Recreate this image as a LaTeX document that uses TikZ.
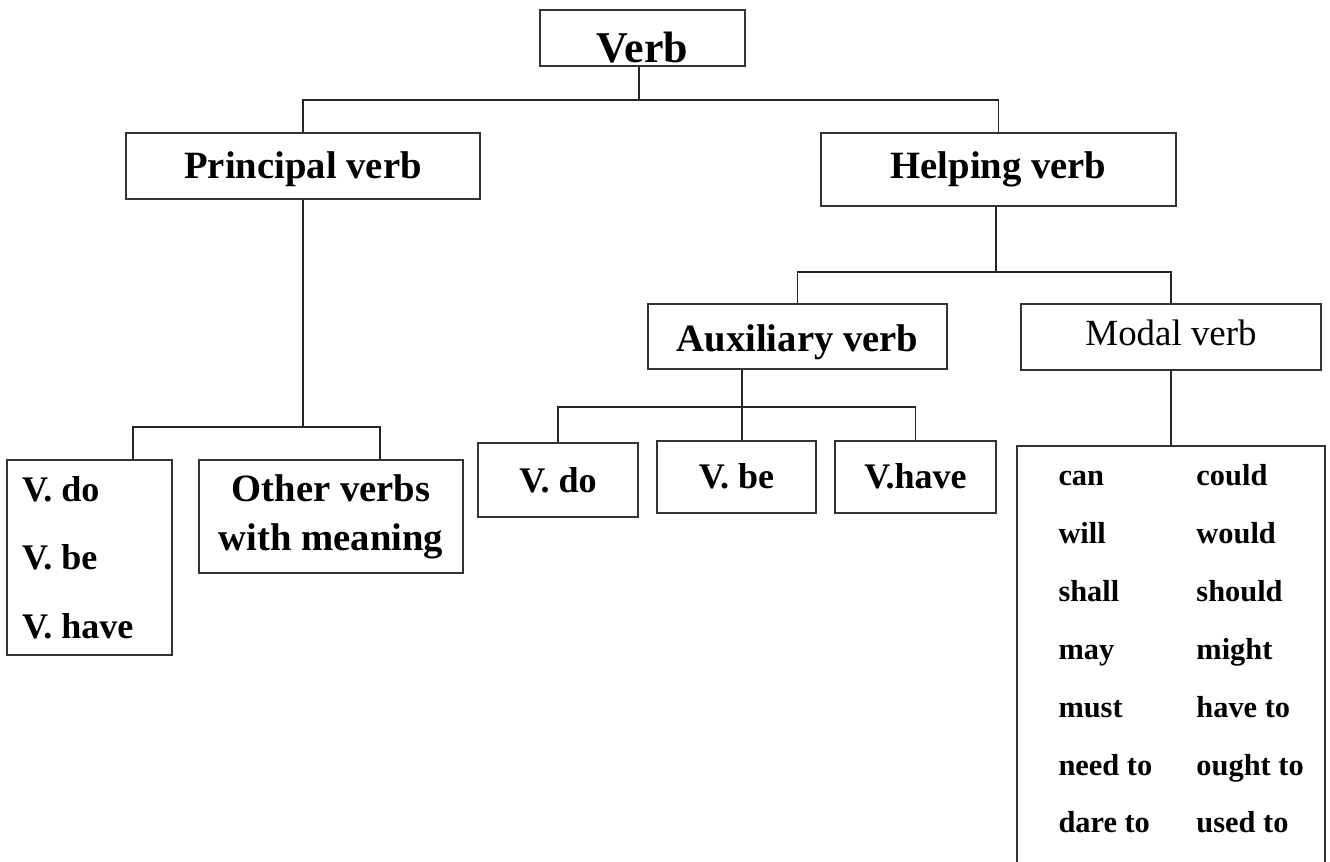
\documentclass[tikz,border=0pt]{standalone}
\usepackage{fontspec}
\setmainfont{Liberation Serif}
\usetikzlibrary{positioning}

\begin{document}
\begin{tikzpicture}[x=0.02cm, y=-0.02cm]
	\tikzstyle{Box}  = [draw=black!80, line width=1pt, inner sep=0pt]
	\tikzstyle{Link} = [black!85, line width=1pt]
	\tikzstyle{Head} = [font=\bfseries\fontsize{22}{26}\selectfont]
	\tikzstyle{Leaf} = [font=\bfseries\fontsize{20.5}{25}\selectfont]

	\path[use as bounding box, clip] (0,0) rectangle (1330,862);

	% top levels
	\node (verb) at (642.5,62) [Box, anchor=base, minimum width=4.1cm, text height=1.04cm, text depth=0.08cm, font=\bfseries\fontsize{25}{30}\selectfont] {Verb};
	\node (principal) at (303,178) [Box, Head, anchor=base, minimum width=7.08cm, text height=0.9cm, text depth=0.42cm] {Principal verb};
	\node (helping) at (998.5,178) [Box, Head, anchor=base, minimum width=7.1cm, text height=0.9cm, text depth=0.56cm] {Helping verb};
	\node (aux) at (797.5,351) [Box, Head, anchor=base, minimum width=5.98cm, text height=0.94cm, text depth=0.36cm] {Auxiliary verb};
	\node (modal) at (1171,345) [Box, anchor=base, minimum width=6cm, text height=0.82cm, text depth=0.5cm, font=\fontsize{21}{25}\selectfont] {Modal verb};

	% leaves
	\node (pverbs) at (89.5,557.5) [Box, minimum width=3.3cm, minimum height=3.9cm, text width=2.7cm, align=flush left, font=\bfseries\fontsize{20.5}{39}\selectfont] {V. do\\V. be\\V. have};
	\node (other) at (331,516.5) [Box, minimum width=5.28cm, minimum height=2.26cm, align=center, font=\bfseries\fontsize{22}{27.8}\selectfont] {Other verbs\\with meaning};
	\node (vdo) at (558,492) [Box, Leaf, anchor=base, minimum width=3.2cm, text height=0.98cm, text depth=0.5cm] {V. do};
	\node (vbe) at (736.5,488) [Box, Leaf, anchor=base, minimum width=3.18cm, text height=0.94cm, text depth=0.5cm] {V. be};
	\node (vhave) at (915.5,488) [Box, Leaf, anchor=base, minimum width=3.22cm, text height=0.94cm, text depth=0.5cm] {V.have};
	\node (mlist) at (1171,663) [Box, minimum width=6.16cm, minimum height=8.68cm] {};
	\node (mwords) [below right=0pt and 0.84cm of mlist.north west, inner sep=0pt, font=\bfseries\fontsize{17.3}{32.9}\selectfont]
		{\begin{tabular}{@{}p{2.76cm}@{}l@{}}
			can & could\\
			will & would\\
			shall & should\\
			may & might\\
			must & have to\\
			need to & ought to\\
			dare to & used to
		\end{tabular}};

	% connectors
	\coordinate (topbar) at (639,100);
	\draw [Link] (verb.south -| topbar) -- (topbar);
	\draw [Link] (principal.north) |- (topbar) -| (helping.north);

	\coordinate (prinbar) at (303,427);
	\coordinate (pl) at (133,427);
	\coordinate (pr) at (380,427);
	\draw [Link] (principal.south) -- (prinbar);
	\draw [Link] (pl |- pverbs.north) -- (pl) -- (pr) -- (pr |- other.north);

	\coordinate (helpbar) at (996,272);
	\draw [Link] (helping.south -| helpbar) -- (helpbar);
	\draw [Link] (aux.north) |- (helpbar) -| (modal.north);

	\coordinate (auxbar) at (742,407);
	\draw [Link] (aux.south -| auxbar) -- (auxbar);
	\draw [Link] (vdo.north) |- (auxbar) -| (vhave.north);
	\draw [Link] (auxbar) -- (auxbar |- vbe.north);

	\draw [Link] (modal.south) -- (mlist.north);
\end{tikzpicture}
\end{document}
